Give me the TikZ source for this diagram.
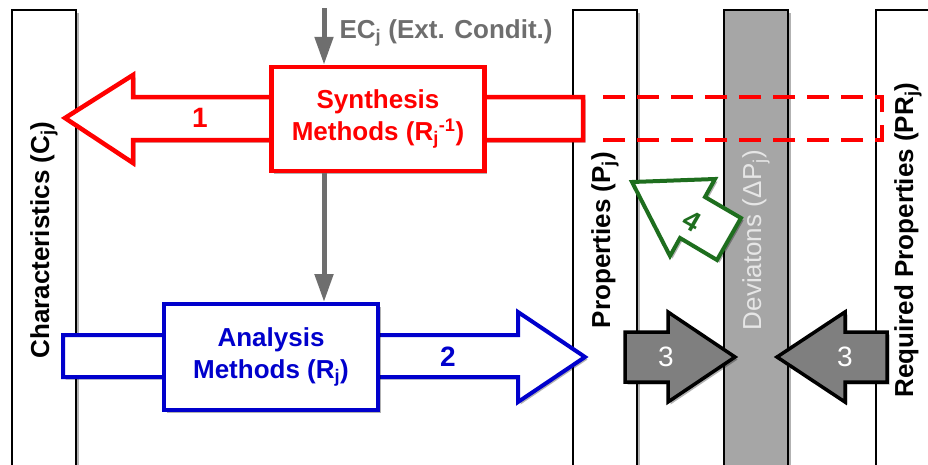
\documentclass[tikz,border=0pt]{standalone}
\usepackage{fontspec}
\setmainfont{Liberation Sans}
\usetikzlibrary{arrows.meta,shadows}
\definecolor{synred}{RGB}{255,0,0}
\definecolor{anablue}{RGB}{0,0,204}
\definecolor{fbgreen}{RGB}{30,110,30}
\definecolor{ecgray}{RGB}{110,110,110}
\definecolor{devgray}{RGB}{166,166,166}
\definecolor{devtext}{RGB}{230,230,230}
\definecolor{cmpgray}{RGB}{127,127,127}
\begin{document}
\begin{tikzpicture}[x=1pt,y=-1pt,
  softshadow/.style={drop shadow={shadow xshift=2.5pt,shadow yshift=-2.5pt,fill=black,opacity=0.3}},
  bigfont/.style={font=\bfseries\fontsize{26}{32}\selectfont},
  column/.style={draw=black,fill=white,line width=2pt,rotate=90,minimum width=460pt,
    minimum height=64pt,inner sep=0pt,bigfont,softshadow},
  methodbox/.style={fill=white,line width=4.5pt,minimum width=213pt,minimum height=104pt,
    align=center,bigfont,softshadow},
  blockarrow/.style={line width=4.5pt,fill=white,softshadow},
  futurepath/.style={draw=synred,line width=4.5pt,dash pattern=on 22pt off 12pt,dash phase=27pt},
  ecarrow/.style={ecgray,line width=5pt,-{Triangle[width=18pt,length=28pt]}},
  number/.style={font=\bfseries\fontsize{28}{30}\selectfont}]
  \useasboundingbox (0,0) rectangle (928,464);
  \clip (0,0) rectangle (928,464);
  \node[column] (char) at (44,240) {Characteristics (C\textsubscript{j})};
  \node[column] (prop) at (605,240) {Properties (P\textsubscript{j})};
  \node[column,fill=devgray,text=devtext,font=\mdseries\fontsize{26}{30}\selectfont] (dev) at (756,240) {Deviatons (Δ\kern1pt P\textsubscript{j})};
  \node[column] (req) at (908,240) {Required Properties (PR\textsubscript{j})};
  \draw[blockarrow,draw=synred] (583,97) -- (133,97) -- (133,75) -- (65,118) -- (133,163) -- (133,140) -- (583,140) -- cycle;
  \draw[futurepath] (882,119) -- (882,97) -- (593,97);
  \draw[futurepath] (882,118) -- (882,140) -- (593,140);
  \node[methodbox,draw=synred,text=synred] (synth) at (378,119) {Synthesis\\Methods (R\textsubscript{j}\textsuperscript{-1})};
  \draw[blockarrow,draw=anablue,line width=4pt] (63,335) -- (518,335) -- (518,312) -- (585,357) -- (518,402) -- (518,377) -- (63,377) -- cycle;
  \node[methodbox,draw=anablue,text=anablue,line width=4pt,minimum width=214pt,minimum height=106pt] (anal) at (271,357) {Analysis\\Methods (R\textsubscript{j})};
  \draw[blockarrow,line width=3.5pt,fill=cmpgray] (625,332) -- (668,332) -- (668,312) -- (735,357) -- (668,402) -- (668,382) -- (625,382) -- cycle;
  \draw[blockarrow,line width=3.5pt,fill=cmpgray] (887,332) -- (845,332) -- (845,312) -- (777,357) -- (845,402) -- (845,382) -- (887,382) -- cycle;
  \draw[blockarrow,draw=fbgreen,line width=4pt] (632,182) -- (715,179) -- (705,197) -- (741,218) -- (717,260) -- (680,238) -- (670,256) -- cycle;
  \node[number,text=synred] (one) at (200,118) {1};
  \node[number,text=anablue] (two) at (448,357) {2};
  \node[number,text=white,font=\mdseries\fontsize{28}{30}\selectfont] (threel) at (666,357) {3};
  \node[number,text=white,font=\mdseries\fontsize{28}{30}\selectfont] (threer) at (845,357) {3};
  \node[number,text=fbgreen,rotate=-30] (four) at (692,221) {4};
  \coordinate (ec) at (324,8);
  \node[bigfont,text=ecgray,anchor=west] (eclabel) at (336,33) {EC\textsubscript{j} (Ext. Condit.)};
  \draw[ecarrow] (ec) -- (ec |- synth.north);
  \draw[ecarrow] (ec |- synth.south) -- (ec |- anal.north);
\end{tikzpicture}
\end{document}
